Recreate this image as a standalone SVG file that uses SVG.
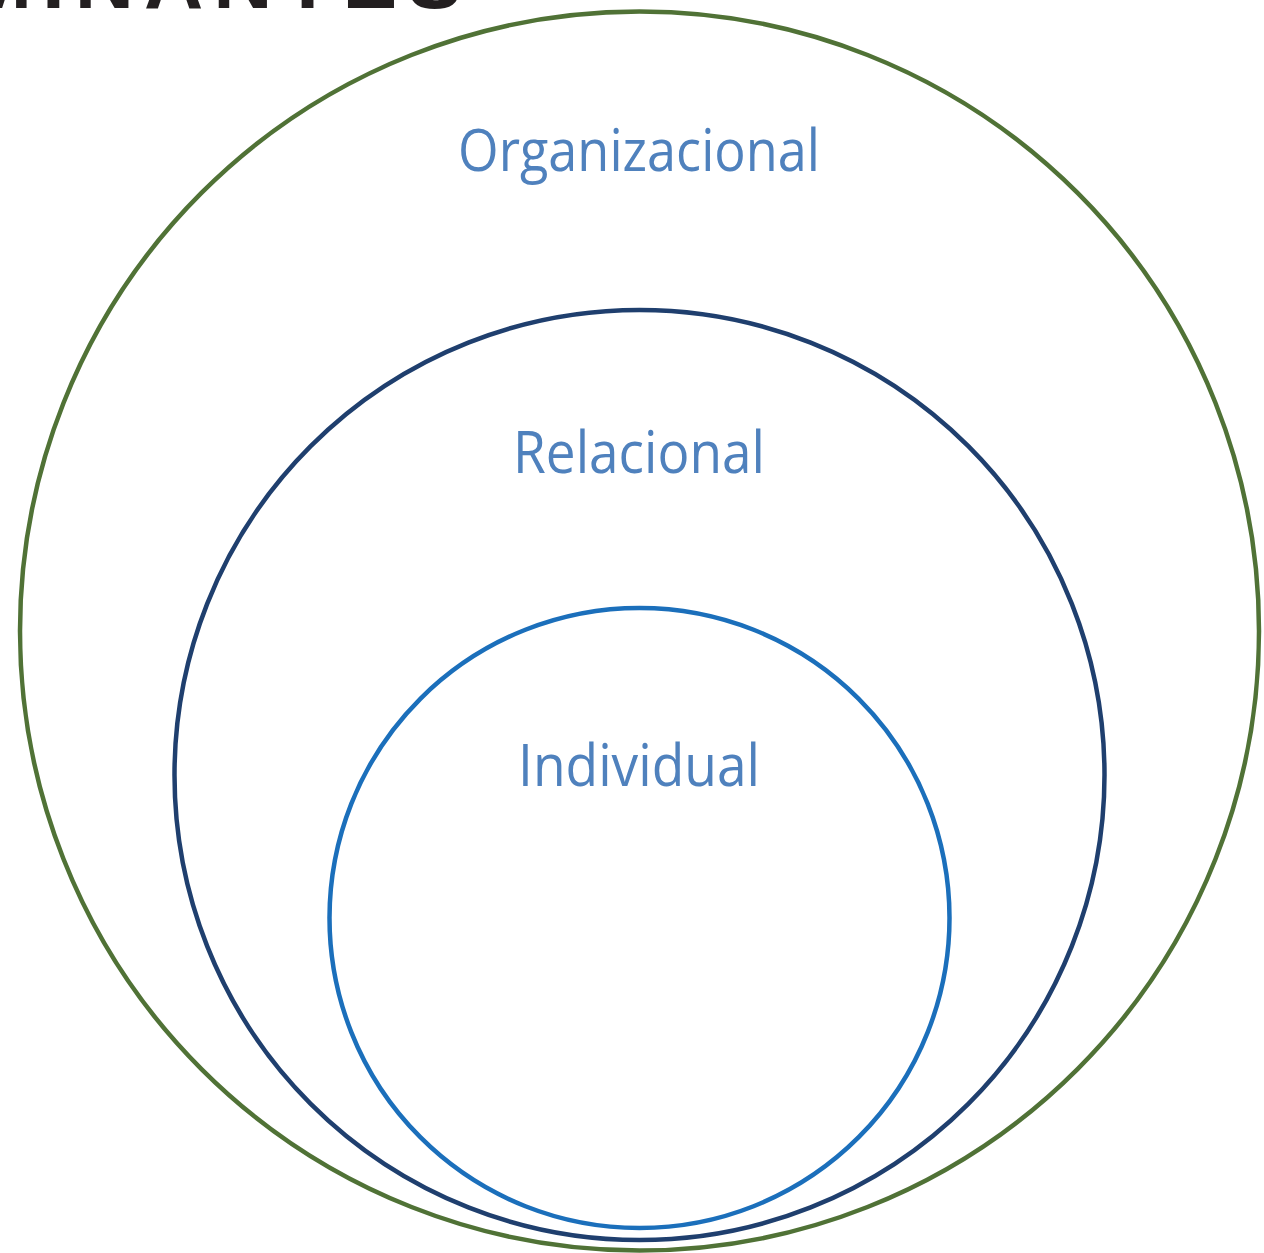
<svg xmlns="http://www.w3.org/2000/svg" width="1264" height="1253" viewBox="0 0 1264 1253">
  <style>
    .ring { fill: none; stroke-width: 4.5; }
    .label { font-family: "Open Sans", "Noto Sans", sans-serif; font-size: 58px; fill: #4f81bd; text-anchor: middle; }
    .title { font-family: "Liberation Sans", Arial, sans-serif; font-weight: bold; font-size: 82px; fill: #231f20; }
  </style>
  <rect width="1264" height="1253" fill="#ffffff"/>
  <!-- heading, mostly above the top edge -->
  <text class="title" x="472" y="8" text-anchor="end" letter-spacing="10">DETERMINANTES</text>

  <g id="organizacional">
    <circle class="ring" cx="639.5" cy="631" r="619.5" stroke="#507236"/>
    <text class="label" x="639" y="171" textLength="362" lengthAdjust="spacingAndGlyphs">Organizacional</text>
  </g>
  <g id="relacional">
    <circle class="ring" cx="639.5" cy="775" r="465" stroke="#1f3f6e"/>
    <text class="label" x="639" y="473" textLength="252" lengthAdjust="spacingAndGlyphs">Relacional</text>
  </g>
  <g id="individual">
    <circle class="ring" cx="639.5" cy="918" r="310" stroke="#1b6fbb"/>
    <text class="label" x="639" y="786" textLength="242" lengthAdjust="spacingAndGlyphs">Individual</text>
  </g>
  <g id="connectors"/>
</svg>
